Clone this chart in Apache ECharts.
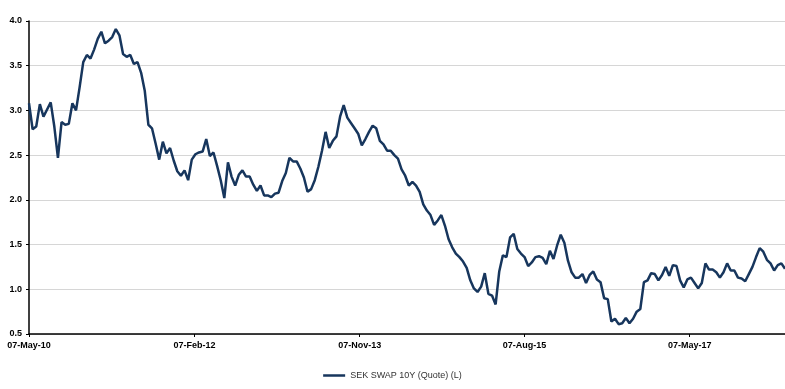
<!DOCTYPE html>
<html>
<head>
<meta charset="utf-8">
<script src="https://cdn.jsdelivr.net/npm/echarts@6/dist/echarts.min.js"></script>
<style>
html,body{margin:0;padding:0;background:#fff;}
#chart{width:785px;height:389px;}
</style>
</head>
<body>
<div id="chart"></div>
<script>
// ---- data ----
const seriesName = 'SEK SWAP 10Y (Quote) (L)';
const startDate = '2010-05-07';
const stepDays = 14; // bi-weekly observations
const swapValues = [
3.08,2.79,2.82,3.07,2.93,3.01,3.09,2.82,2.47,2.87,
2.84,2.85,3.08,3.00,3.26,3.54,3.62,3.58,3.68,3.80,
3.88,3.75,3.78,3.82,3.91,3.84,3.63,3.60,3.62,3.52,
3.54,3.42,3.22,2.84,2.80,2.63,2.45,2.65,2.52,2.58,
2.44,2.32,2.27,2.33,2.22,2.45,2.51,2.53,2.54,2.68,
2.49,2.53,2.38,2.22,2.02,2.42,2.26,2.16,2.28,2.33,
2.26,2.26,2.17,2.10,2.16,2.05,2.05,2.03,2.07,2.08,
2.21,2.30,2.47,2.43,2.43,2.35,2.25,2.09,2.12,2.22,
2.37,2.55,2.76,2.58,2.66,2.71,2.93,3.06,2.92,2.86,
2.80,2.74,2.61,2.68,2.76,2.83,2.80,2.66,2.62,2.55,
2.55,2.50,2.46,2.34,2.27,2.16,2.20,2.16,2.09,1.95,
1.88,1.83,1.72,1.77,1.83,1.71,1.56,1.47,1.40,1.36,
1.31,1.24,1.10,1.01,0.97,1.03,1.18,0.95,0.93,0.83,
1.20,1.38,1.36,1.58,1.62,1.45,1.40,1.36,1.26,1.30,
1.36,1.37,1.35,1.28,1.43,1.34,1.49,1.61,1.52,1.32,
1.19,1.13,1.13,1.17,1.07,1.16,1.20,1.11,1.08,0.90,
0.89,0.64,0.67,0.61,0.62,0.68,0.62,0.67,0.75,0.78,
1.08,1.10,1.18,1.17,1.10,1.16,1.25,1.15,1.27,1.26,
1.10,1.02,1.11,1.13,1.07,1.01,1.07,1.29,1.22,1.22,
1.19,1.13,1.19,1.29,1.21,1.21,1.13,1.12,1.09,1.17,
1.25,1.36,1.46,1.42,1.33,1.29,1.21,1.27,1.29,1.23
];
const xTickLabels = ['07-May-10','07-Feb-12','07-Nov-13','07-Aug-15','07-May-17'];
const yMin = 0.5, yMax = 4.0, yStep = 0.5;

// ---- helpers ----
const MONTHS = ['Jan','Feb','Mar','Apr','May','Jun','Jul','Aug','Sep','Oct','Nov','Dec'];
function parseLabel(s){
  const p = s.split('-');
  return Date.UTC(2000 + (+p[2]), MONTHS.indexOf(p[1]), +p[0]);
}
function fmt(ts){
  const d = new Date(ts);
  const dd = String(d.getUTCDate()).padStart(2,'0');
  const yy = String(d.getUTCFullYear() % 100).padStart(2,'0');
  return dd + '-' + MONTHS[d.getUTCMonth()] + '-' + yy;
}
const sp = startDate.split('-');
const t0 = Date.UTC(+sp[0], +sp[1]-1, +sp[2]);
const dates = swapValues.map((_, i) => t0 + i * stepDays * 86400000);
const seriesData = swapValues.map((v, i) => [dates[i], v]);
const tickTs = xTickLabels.map(parseLabel);

const chart = echarts.init(document.getElementById('chart'), null, {renderer:'canvas'});
chart.setOption({
  animation: false,
  backgroundColor: '#ffffff',
  grid: {left: 29, right: 0, top: 21, bottom: 55, containLabel: false},
  legend: {
    show: true,
    left: 'center',
    top: 366,
    icon: 'rect',
    itemWidth: 22,
    itemHeight: 2.5,
    itemGap: 6,
    textStyle: {fontFamily: 'Liberation Sans, Arial, sans-serif', fontSize: 9, color: '#333'},
    data: [seriesName]
  },
  xAxis: {
    type: 'value',
    min: dates[0],
    max: dates[dates.length - 1],
    scale: true,
    splitLine: {show: false},
    axisLine: {show: true, lineStyle: {color: '#000', width: 1.5}},
    axisTick: {show: true, customValues: tickTs, length: 3, lineStyle: {color: '#000'}},
    axisLabel: {
      customValues: tickTs,
      formatter: function(v){ return fmt(v); },
      fontFamily: 'Liberation Sans, Arial, sans-serif',
      fontWeight: 'bold',
      fontSize: 9,
      color: '#000',
      margin: 7
    }
  },
  yAxis: {
    type: 'value',
    min: yMin,
    max: yMax,
    interval: yStep,
    axisLine: {show: true, lineStyle: {color: '#000', width: 1.5}},
    axisTick: {show: true, length: 3, lineStyle: {color: '#000'}},
    splitLine: {show: true, lineStyle: {color: '#d6d6d6', width: 1}},
    axisLabel: {
      formatter: function(v){ return v.toFixed(1); },
      fontFamily: 'Liberation Sans, Arial, sans-serif',
      fontWeight: 'bold',
      fontSize: 9,
      color: '#000',
      margin: 7
    }
  },
  series: [{
    name: seriesName,
    type: 'line',
    data: seriesData,
    showSymbol: false,
    symbol: 'none',
    lineStyle: {color: '#17365d', width: 2.5},
    itemStyle: {color: '#17365d'}
  }]
});
</script>
</body>
</html>
